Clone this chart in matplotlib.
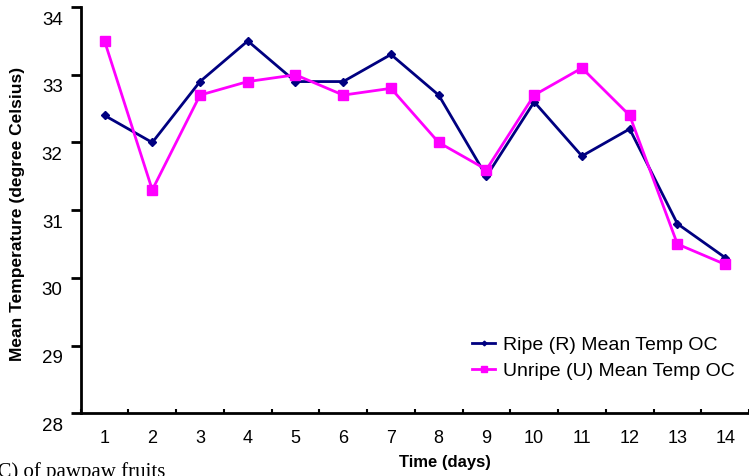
import matplotlib
matplotlib.use("Agg")
import matplotlib.pyplot as plt
import matplotlib.transforms as mtransforms

days = list(range(1, 15))
ripe_temp = [32.4, 32.0, 32.9, 33.5, 32.9, 32.9, 33.3, 32.7, 31.5, 32.6, 31.8, 32.2, 30.8, 30.3]
unripe_temp = [33.5, 31.3, 32.7, 32.9, 33.0, 32.7, 32.8, 32.0, 31.6, 32.7, 33.1, 32.4, 30.5, 30.2]
y_ticks = [28, 29, 30, 31, 32, 33, 34]

plt.rcParams["font.family"] = ["Liberation Sans", "DejaVu Sans"]

fig = plt.figure(figsize=(7.49, 4.76), dpi=100)
ax = fig.add_axes([0.1077, 0.1317, 0.8923, 0.8534])

ax.plot(days, ripe_temp, color="#000080", lw=2, marker="D", ms=4,
        label="Ripe (R) Mean Temp OC")
ax.plot(days, unripe_temp, color="#FF00FF", lw=2, marker="s", ms=7,
        label="Unripe (U) Mean Temp OC")

ax.set_xlim(0.5, 14.5)
ax.set_ylim(28, 34)
ax.set_xticks(days)
ax.set_xticks([d + 0.5 for d in range(0, 15)], minor=True)
ax.set_yticks(y_ticks)
ax.tick_params(axis="x", which="major", length=0, labelsize=13, pad=12)
ax.tick_params(axis="x", which="minor", direction="in", length=3, width=1.5)
ax.tick_params(axis="y", direction="out", length=7, width=2, labelsize=13.5, pad=6)

# tick labels in the original sit a bit below their ticks
offset = mtransforms.ScaledTranslation(0, -11 / 100, fig.dpi_scale_trans)
for lbl in ax.get_yticklabels():
    lbl.set_transform(lbl.get_transform() + offset)

for side in ["top", "right"]:
    ax.spines[side].set_visible(False)
for side in ["left", "bottom"]:
    ax.spines[side].set_linewidth(2)

ax.set_ylabel("Mean Temperature (degree Celsius)", fontsize=12.5, fontweight="bold")
ax.yaxis.set_label_coords(-0.083, 0.49)
fig.text(445 / 749, 1 - 462 / 476, "Time (days)", fontsize=12, fontweight="bold",
         ha="center", va="center")

ax.legend(loc="lower right", bbox_to_anchor=(1.005, 0.04), frameon=False,
          fontsize=14, handlelength=1.2, handletextpad=0.4, labelspacing=0.4,
          markerscale=0.6)

# caption of the source figure, cut by the bottom edge as in the original
fig.text(-0.012, -0.012, "ºC) of pawpaw fruits", family="Liberation Serif",
         fontsize=15, ha="left", va="bottom")

fig.savefig("out.png", dpi=100)
